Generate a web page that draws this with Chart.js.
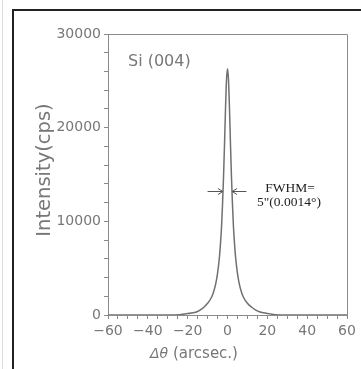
<!DOCTYPE html>
<html>
<head>
<meta charset="utf-8">
<script src="https://cdn.jsdelivr.net/npm/chart.js@4"></script>
<style>
  html, body { margin: 0; padding: 0; background: #fff; overflow: hidden; }
  #wrap { position: relative; width: 361px; height: 369px; overflow: hidden; }
  .rule { position: absolute; background: #222; }
  #edge { position: absolute; left: 2px; top: 0; width: 1px; height: 369px; background: #ddd; }
  canvas { position: absolute; left: 0; top: 0; }
</style>
</head>
<body>
<div id="wrap">
  <div id="edge"></div>
  <div class="rule" style="left:12px; top:9px; width:349px; height:2px;"></div>
  <div class="rule" style="left:12px; top:9px; width:2px; height:360px;"></div>
  <canvas id="rocking" width="361" height="369"></canvas>
</div>
<script>
// rocking curve
const deltaTheta = [-60, -50, -40, -30, -24, -20, -18, -16, -14, -12, -10, -8, -7, -6, -5, -4, -3.5, -3,
  -2.5, -2, -1.5, -1, -0.5, 0, 0.5, 1, 1.5, 2, 2.5, 3, 3.5, 4, 5, 6, 7, 8, 10, 12, 14, 16, 18, 20, 24,
  30, 40, 50, 60];
const intensity = [0, 0, 0, 0, 40, 150, 220, 300, 500, 800, 1250, 1900, 2450, 3250, 4450, 6300, 7700, 9400,
  11800, 14700, 18200, 22000, 25100, 26300, 25100, 22000, 18200, 14700, 11800, 9400, 7700, 6300, 4450,
  3250, 2450, 1900, 1250, 850, 550, 350, 230, 150, 40, 0, 0, 0, 0];

const xMajor = [-60, -40, -20, 0, 20, 40, 60];
const yMajor = [0, 10000, 20000, 30000];

// FWHM arrows: level and the two edges of the peak
const halfMax = 13200;
const fwhmEdges = [-2.3, 2.3];
const arrowTails = [-10, 9.5];

const sampleLabel = "Si (004)";
const fwhmLines = ["FWHM=", "5\"(0.0014\u00b0)"];
const xTitle = ["\u0394\u03b8", " (arcsec.)"];
const yTitle = "Intensity(cps)";

const points = deltaTheta.map((x, i) => ({ x: x, y: intensity[i] }));
const axisGray = "#8a8a8a";
const textGray = "#777";

const extras = {
  id: "extras",
  afterDraw(chart) {
    const { ctx, chartArea: a, scales: { x, y } } = chart;
    ctx.save();
    // top and right side of the box
    ctx.strokeStyle = axisGray;
    ctx.lineWidth = 1;
    ctx.beginPath();
    ctx.moveTo(a.left, a.top + 0.5);
    ctx.lineTo(a.right + 0.5, a.top + 0.5);
    ctx.lineTo(a.right + 0.5, a.bottom);
    ctx.stroke();

    // arrows
    const yh = Math.round(y.getPixelForValue(halfMax)) + 0.5;
    ctx.strokeStyle = "#555";
    fwhmEdges.forEach((edge, i) => {
      const xe = x.getPixelForValue(edge);
      const xt = x.getPixelForValue(arrowTails[i]);
      const dir = xe > xt ? 1 : -1;
      ctx.beginPath();
      ctx.moveTo(xt, yh);
      ctx.lineTo(xe, yh);
      ctx.moveTo(xe, yh);
      ctx.lineTo(xe - dir * 5, yh - 3);
      ctx.moveTo(xe, yh);
      ctx.lineTo(xe - dir * 5, yh + 3);
      ctx.stroke();
    });

    // texts
    ctx.fillStyle = textGray;
    ctx.textBaseline = "middle";
    ctx.textAlign = "left";
    ctx.font = "16px 'DejaVu Sans'";
    ctx.fillText(sampleLabel, 128, 62);

    ctx.fillStyle = "#222";
    ctx.textAlign = "center";
    ctx.font = "13.5px 'Liberation Serif'";
    ctx.fillText(fwhmLines[0], 290, 188);
    ctx.fillText(fwhmLines[1], 289, 202);

    // x title: italic symbol, upright unit
    ctx.fillStyle = textGray;
    ctx.textAlign = "left";
    ctx.font = "italic 14px 'DejaVu Sans'";
    const w0 = ctx.measureText(xTitle[0]).width;
    ctx.font = "15px 'DejaVu Sans'";
    const w1 = ctx.measureText(xTitle[1]).width;
    const x0 = 194 - (w0 + w1) / 2;
    ctx.font = "italic 14px 'DejaVu Sans'";
    ctx.fillText(xTitle[0], x0, 354);
    ctx.font = "15px 'DejaVu Sans'";
    ctx.fillText(xTitle[1], x0 + w0, 354);

    ctx.textAlign = "center";
    ctx.translate(45, 170);
    ctx.rotate(-Math.PI / 2);
    ctx.font = "19.5px 'DejaVu Sans'";
    ctx.fillText(yTitle, 0, 0);
    ctx.restore();
  }
};

new Chart(document.getElementById("rocking"), {
  type: "line",
  data: {
    datasets: [{
      data: points,
      borderColor: "#707070",
      borderWidth: 1.5,
      pointRadius: 0,
      cubicInterpolationMode: "monotone",
      fill: false
    }]
  },
  options: {
    responsive: false,
    animation: false,
    events: [],
    layout: { padding: { top: 34, right: 14, left: 0, bottom: 0 } },
    plugins: { legend: { display: false }, tooltip: { enabled: false } },
    scales: {
      x: {
        type: "linear",
        min: -60,
        max: 60,
        afterFit: (s) => { s.height = 54; },
        border: { color: axisGray, width: 1 },
        grid: { drawOnChartArea: false, color: axisGray, tickColor: axisGray, tickLength: 4 },
        ticks: {
          stepSize: 5,
          autoSkip: false,
          maxRotation: 0,
          padding: 4,
          color: textGray,
          font: { family: "'DejaVu Sans'", size: 14 },
          callback: (v) => xMajor.includes(v) ? (v < 0 ? "\u2212" + (-v) : String(v)) : ""
        }
      },
      y: {
        min: 0,
        max: 30000,
        afterFit: (s) => { s.width = 108; },
        border: { color: axisGray, width: 1 },
        grid: { drawOnChartArea: false, color: axisGray, tickColor: axisGray, tickLength: 4 },
        ticks: {
          stepSize: 2000,
          autoSkip: false,
          padding: 3,
          color: textGray,
          font: { family: "'DejaVu Sans'", size: 14 },
          callback: (v) => yMajor.includes(v) ? String(v) : ""
        }
      }
    }
  },
  plugins: [extras]
});
</script>
</body>
</html>
